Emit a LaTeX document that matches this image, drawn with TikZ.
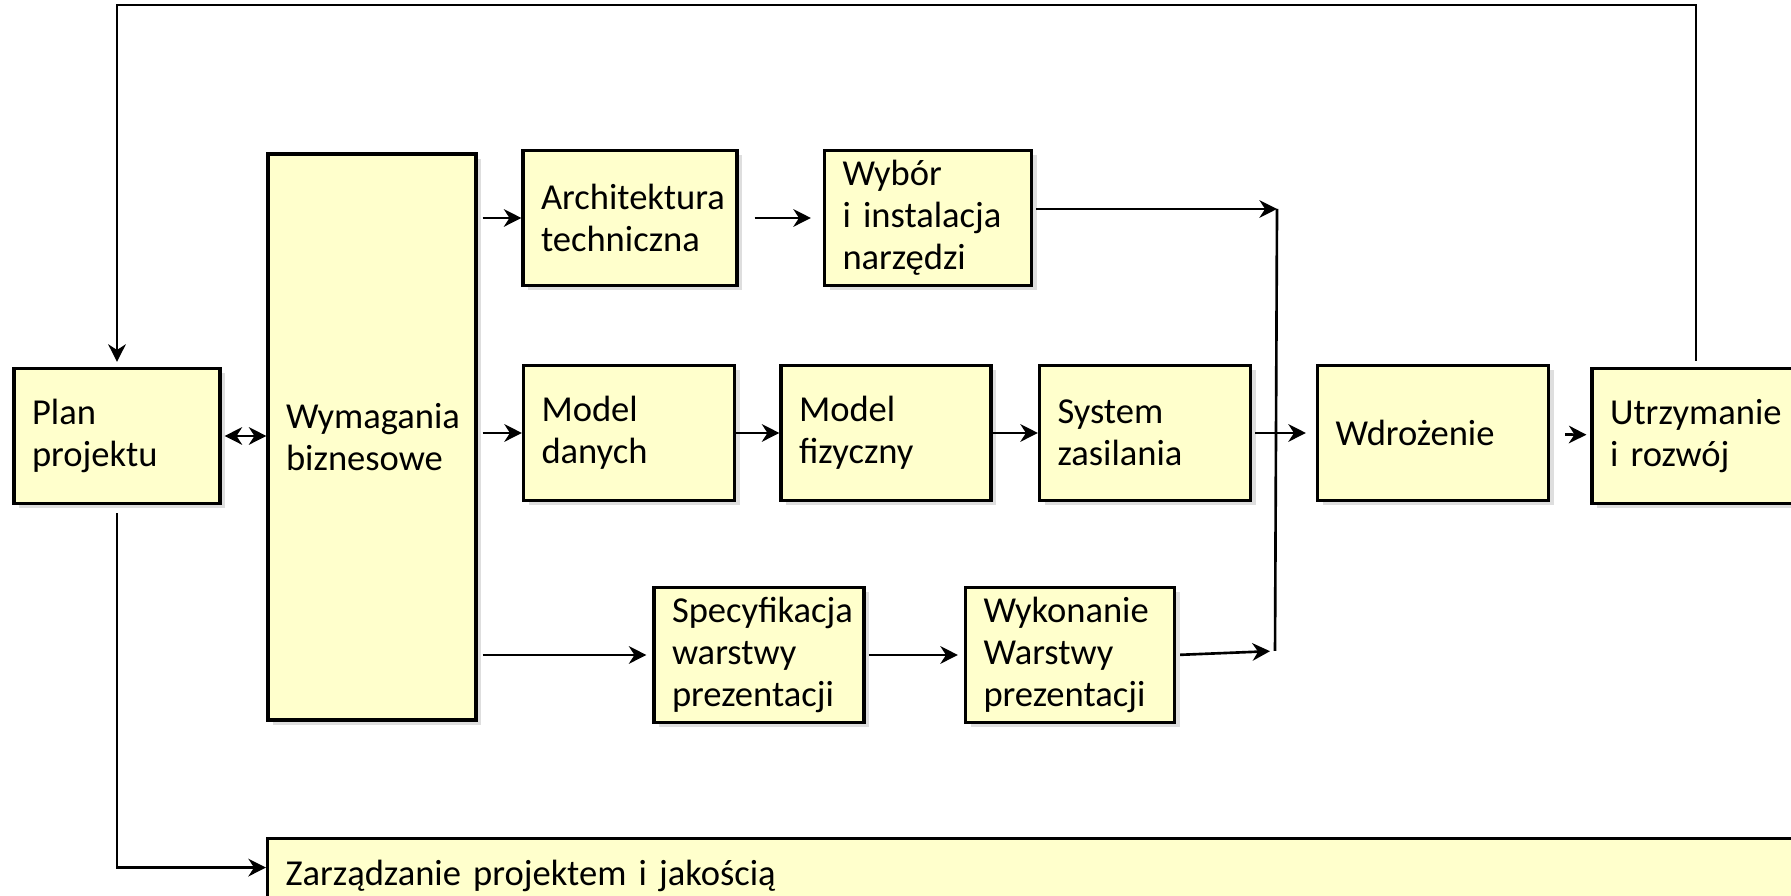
\documentclass[tikz,border=0pt]{standalone}
\usepackage{fontspec}
\setmainfont{Carlito}
\usepackage{xcolor}
\usepackage{tikz}
\usetikzlibrary{arrows.meta,positioning,calc,shadows}
\definecolor{stageyellow}{RGB}{255,255,204}
\definecolor{shadowgray}{RGB}{222,222,222}

\begin{document}
\begin{tikzpicture}[
    font=\fontsize{10.4pt}{12pt}\selectfont,
    stage/.style={rectangle, draw, line width=0.9pt, fill=stageyellow, align=left, inner xsep=0.18cm, inner ysep=0.03cm, minimum height=1.35cm,
        drop shadow={shadow xshift=0.05cm, shadow yshift=-0.05cm, fill=shadowgray, opacity=1}},
    arrow/.style={-{Stealth[length=5pt, width=5pt, inset=1.6pt]}, line width=0.75pt},
    line/.style={line width=0.75pt}
]
    \useasboundingbox (0,0) rectangle (17.91,8.96);
    \clip (0,0) rectangle (17.91,8.96);

    % main stages
    \node[stage, text width=1.70cm] (plan) at (1.17,4.60) {Plan\\projektu};
    \node[stage, text width=1.72cm, minimum height=5.66cm] (wym) at (3.72,4.59) {Wymagania\\biznesowe};
    \node[stage, text width=1.78cm] (arch) at (6.30,6.78) {Architektura\\techniczna};
    \node[stage, text width=1.71cm] (wyb) at (9.28,6.78) {Wybór\\i instalacja\\narzędzi};
    \node[stage, text width=1.75cm] (dane) at (6.29,4.63) {Model\\danych};
    \node[stage, text width=1.74cm] (fiz) at (8.86,4.63) {Model\\fizyczny};
    \node[stage, text width=1.75cm] (zas) at (11.45,4.63) {System\\zasilania};
    \node[stage, text width=1.95cm] (wdr) at (14.33,4.63) {Wdrożenie};
    \node[stage, text width=1.74cm] (utrz) at (16.97,4.60) {Utrzymanie\\i rozwój};
    \node[stage, text width=1.74cm] (spec) at (7.59,2.41) {Specyfikacja\\warstwy\\prezentacji};
    \node[stage, text width=1.73cm] (wyk) at (10.70,2.41) {Wykonanie\\Warstwy\\prezentacji};
    \node[stage, anchor=north west, text width=15.2cm, minimum height=0.74cm] (zarz) at (2.66,0.59) {Zarządzanie projektem i jakością};

    % merge points
    \coordinate (mtop) at (12.77,6.87);
    \coordinate (mbot) at (12.75,2.45);
    \coordinate (fb) at (16.96,8.91);

    \draw[{Stealth[length=5pt, width=5pt, inset=1.6pt]}-{Stealth[length=5pt, width=5pt, inset=1.6pt]}, line width=0.75pt, shorten <=0.03cm] (plan.east) -- (plan.east -| wym.west);
    \draw[arrow, shorten <=0.05cm] (wym.east |- arch.west) -- (arch.west);
    \draw[arrow, shorten <=0.16cm, shorten >=0.12cm] (arch) -- (wyb);
    \draw[arrow, shorten <=0.05cm] (wym.east |- dane.west) -- (dane.west);
    \draw[arrow] (dane) -- (fiz);
    \draw[arrow] (fiz) -- (zas);
    \draw[arrow, shorten <=0.03cm, shorten >=0.1cm] (zas) -- (wdr);
    \draw[arrow, shorten <=0.15cm, shorten >=0.04cm] (wdr) -- (utrz);
    \draw[arrow, shorten <=0.05cm, shorten >=0.06cm] (wym.east |- spec.west) -- (spec.west);
    \draw[arrow, shorten <=0.03cm, shorten >=0.06cm] (spec) -- (wyk);
    \draw[arrow, shorten <=0.04cm, shorten >=0.05cm] (wyk.east) -- (mbot);
    \draw[arrow, shorten <=0.03cm] (wyb.east |- mtop) -- (mtop);
    \draw[line] (mtop) -- (mbot);

    \draw[arrow, shorten <=0.06cm, shorten >=0.05cm] (utrz.north -| fb) -- (fb) -| (plan.north);
    \draw[arrow, shorten <=0.08cm] (plan.south) |- ([yshift=0.08cm]zarz.west);
\end{tikzpicture}
\end{document}
